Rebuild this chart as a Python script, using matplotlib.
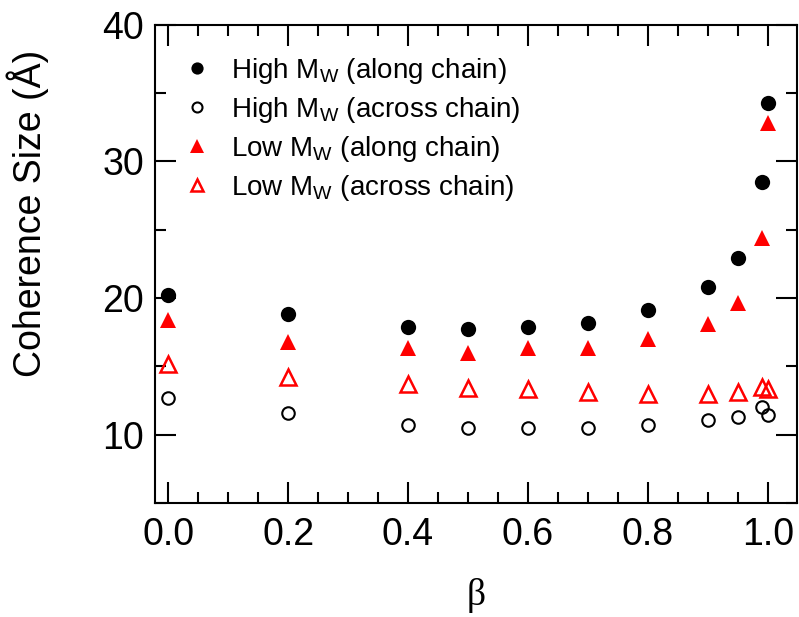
import matplotlib
matplotlib.use("Agg")
import matplotlib.pyplot as plt
from matplotlib.ticker import MultipleLocator

plt.rcParams['font.family'] = ['Liberation Sans', 'DejaVu Sans']
plt.rcParams['mathtext.fontset'] = 'custom'
plt.rcParams['mathtext.rm'] = 'Liberation Sans'
plt.rcParams['mathtext.it'] = 'Liberation Sans:italic'

# beta values
beta = [0.0, 0.2, 0.4, 0.5, 0.6, 0.7, 0.8, 0.9, 0.95, 0.99, 1.0]

# coherence sizes (Angstrom)
high_along = [20.2, 18.8, 17.9, 17.7, 17.9, 18.2, 19.1, 20.8, 22.9, 28.45, 34.3]
high_across = [12.65, 11.6, 10.7, 10.45, 10.45, 10.5, 10.7, 11.1, 11.3, 12.05, 11.4]
low_along = [18.4, 16.8, 16.3, 16.0, 16.3, 16.3, 17.0, 18.1, 19.6, 24.4, 32.8]
low_across = [15.2, 14.2, 13.7, 13.4, 13.3, 13.1, 13.0, 13.0, 13.15, 13.5, 13.3]

labels = [r"High M$_\mathrm{W}$ (along chain)",
          r"High M$_\mathrm{W}$ (across chain)",
          r"Low M$_\mathrm{W}$ (along chain)",
          r"Low M$_\mathrm{W}$ (across chain)"]

fig = plt.figure(figsize=(7.99, 6.17), dpi=100)
ax = fig.add_axes([0.194, 0.185, 0.803, 0.775])

ax.plot(beta, high_along, 'o', color='black', ms=11, mew=0, label=labels[0], clip_on=False)
ax.plot(beta, high_across, 'o', mfc='none', mec='black', ms=9, mew=1.5, label=labels[1], clip_on=False)
ax.plot(beta, low_along, '^', color='red', ms=12, mew=0, label=labels[2], clip_on=False)
ax.plot(beta, low_across, '^', mfc='none', mec='red', ms=11, mew=1.8, label=labels[3], clip_on=False)

ax.set_xlim(-0.022, 1.048)
ax.set_ylim(5, 40)
ax.xaxis.set_major_locator(MultipleLocator(0.2))
ax.xaxis.set_minor_locator(MultipleLocator(0.05))
ax.yaxis.set_major_locator(MultipleLocator(10))
ax.yaxis.set_minor_locator(MultipleLocator(5))
ax.tick_params(which='both', direction='in', top=True, right=True, width=1.5, labelsize=27)
ax.tick_params(which='major', length=15)
ax.tick_params(which='minor', length=8)
ax.tick_params(axis='x', pad=10)
ax.tick_params(axis='y', pad=8)
ax.xaxis.set_major_formatter(matplotlib.ticker.FormatStrFormatter('%.1f'))
for s in ax.spines.values():
    s.set_linewidth(1.5)

ax.set_xlabel('β', fontsize=27, family=['Liberation Serif'], labelpad=18)
ax.set_ylabel('Coherence Size (Å)', fontsize=27)
ax.yaxis.set_label_coords(-0.165, 0.605)

ax.legend(loc='upper left', bbox_to_anchor=(0.0, 0.975), frameon=False, fontsize=20,
          markerscale=0.8, handletextpad=0.45, labelspacing=0.32, borderaxespad=0.3,
          handlelength=1.6)

fig.savefig('out.png', dpi=100)
